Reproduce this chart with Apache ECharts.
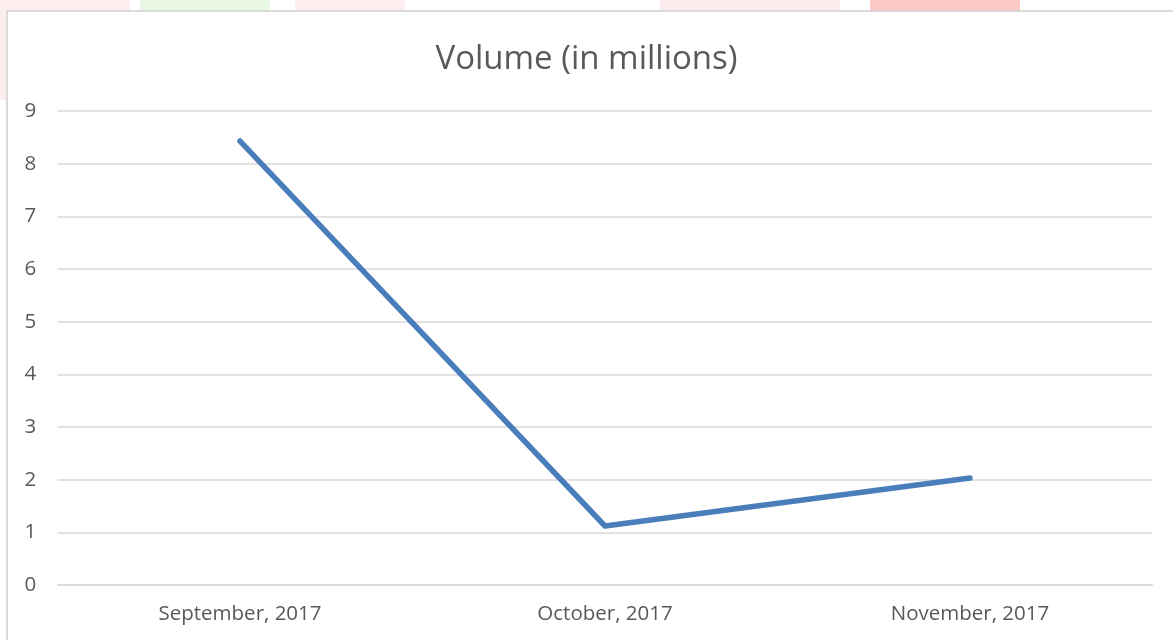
<!DOCTYPE html>
<html><head><meta charset="utf-8">
<script src="https://cdn.jsdelivr.net/npm/echarts@6/dist/echarts.min.js"></script>
<style>html,body{margin:0;padding:0;background:#fff;}#c{width:1173px;height:640px;}</style>
</head><body><div id="c"></div>
<script>
const categories = ["September, 2017", "October, 2017", "November, 2017"];
const volume = [8.43, 1.12, 2.03];
const titleText = "Volume (in millions)";

const chart = echarts.init(document.getElementById('c'), null, {renderer: 'canvas'});
chart.setOption({
  backgroundColor: '#ffffff',
  animation: false,
  graphic: [
    {type: 'rect', shape: {x: 0, y: 0, width: 130, height: 100}, style: {fill: 'rgba(250,200,200,0.3)'}, z: -10},
    {type: 'rect', shape: {x: 140, y: 0, width: 130, height: 11}, style: {fill: 'rgba(200,235,190,0.4)'}, z: -10},
    {type: 'rect', shape: {x: 295, y: 0, width: 110, height: 11}, style: {fill: 'rgba(245,200,200,0.3)'}, z: -10},
    {type: 'rect', shape: {x: 660, y: 0, width: 180, height: 11}, style: {fill: 'rgba(245,205,210,0.4)'}, z: -10},
    {type: 'rect', shape: {x: 870, y: 0, width: 150, height: 11}, style: {fill: 'rgba(245,120,110,0.4)'}, z: -10},
    {type: 'rect', shape: {x: 7, y: 11, width: 1180, height: 640}, style: {fill: '#ffffff', stroke: '#d0d0d0', lineWidth: 1.5}, z: -5}
  ],
  title: {
    text: titleText, left: 'center', top: 38,
    textStyle: {fontFamily: 'Open Sans', fontWeight: 'normal', fontSize: 33, color: '#595959'}
  },
  grid: {left: 57.5, right: 20.5, top: 111, bottom: 55, containLabel: false},
  xAxis: {
    type: 'category', data: categories, boundaryGap: true,
    axisLine: {show: true, lineStyle: {color: '#d9d9d9', width: 1.5}},
    axisTick: {show: false},
    axisLabel: {color: '#595959', fontFamily: 'Open Sans', fontSize: 20.5, margin: 19}
  },
  yAxis: {
    type: 'value', min: 0, max: 9, interval: 1,
    axisLine: {show: false}, axisTick: {show: false},
    splitLine: {lineStyle: {color: '#d9d9d9', width: 1.5}},
    axisLabel: {color: '#595959', fontFamily: 'Open Sans', fontSize: 20.5, margin: 33, align: 'left'}
  },
  series: [{
    type: 'line', data: volume, symbol: 'none',
    lineStyle: {color: '#4a7ebb', width: 5.5, cap: 'round', join: 'round'}
  }]
});
</script></body></html>
